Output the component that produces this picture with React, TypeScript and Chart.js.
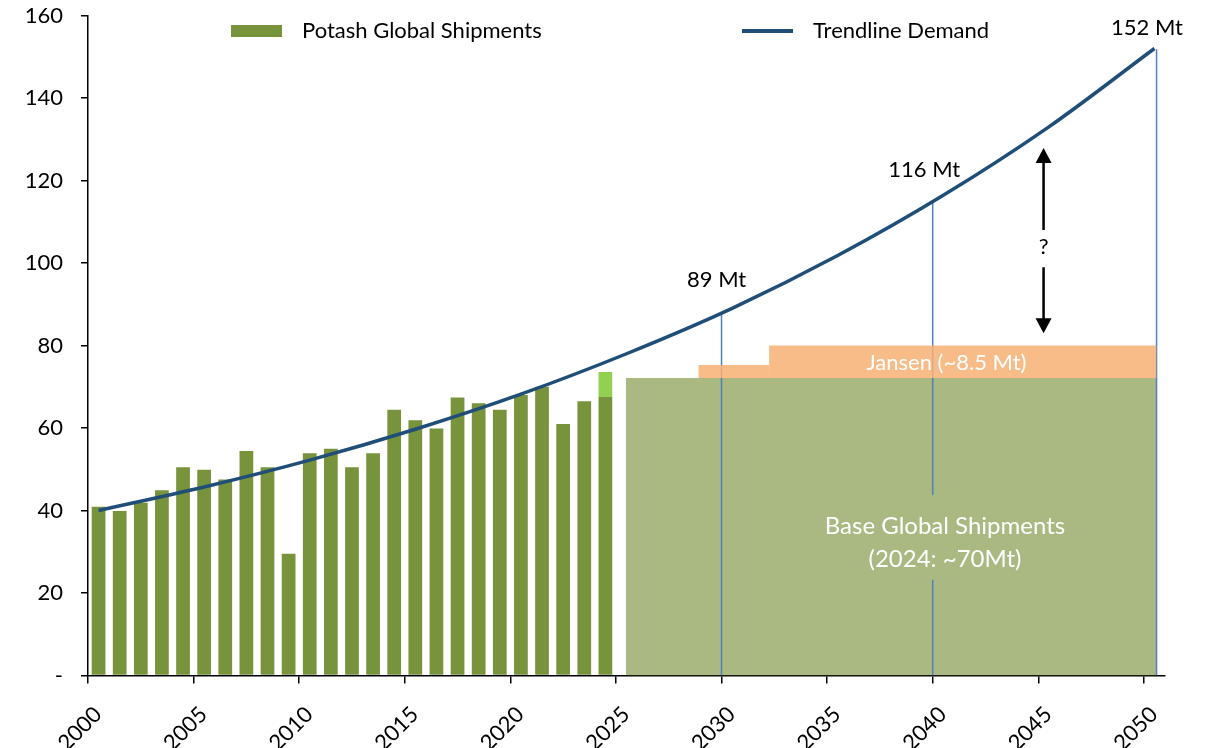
import React, { useEffect, useRef } from 'react';
import { Chart, registerables } from 'chart.js';

Chart.register(...registerables);

// ---------- data ----------
const YEARS = [2000, 2001, 2002, 2003, 2004, 2005, 2006, 2007, 2008, 2009, 2010, 2011, 2012,
  2013, 2014, 2015, 2016, 2017, 2018, 2019, 2020, 2021, 2022, 2023, 2024];
const SHIPMENTS = [40.9, 39.9, 41.9, 44.9, 50.5, 49.9, 47.5, 54.4, 50.5, 29.5, 53.9, 55.0, 50.5,
  53.9, 64.4, 61.9, 59.9, 67.4, 66.0, 64.4, 68.0, 70.0, 61.0, 66.5, 67.5];
const EXTRA_YEAR = 2024;
const EXTRA_RANGE = [67.5, 73.6];

const TREND_YEARS = [2000, 2005, 2010, 2015, 2020, 2025, 2030, 2035, 2040, 2045, 2050];
const TREND_DEMAND = [40, 45.7, 52.2, 59.7, 68.2, 78, 89, 101.8, 116.4, 133, 152];

const X_TICKS = [2000, 2005, 2010, 2015, 2020, 2025, 2030, 2035, 2040, 2045, 2050];

const BASE_START = 2025.47;
const BASE_END = 2050.6;
const BASE_LEVEL = 72.1;
const JANSEN_1 = [2028.9, 2032.25];
const JANSEN_1_TOP = 75.3;
const JANSEN_2 = [2032.25, 2050.6];
const JANSEN_2_TOP = 80;

const MARKER_X = [2030, 2040, 2050.6];
const MARKER_TOP = [88, 114.6, 151.8];
const MARKER_LABELS = ['89 Mt', '116 Mt', '152 Mt'];
const MARKER_LABEL_X = [2029.77, 2039.6, 2050.15];
const MARKER_LABEL_Y = [95.9, 122.5, 157];

const BASE_LABEL = ['Base Global Shipments', '(2024: ~70Mt)'];
const BASE_LABEL_X = 2040.58;
const BASE_LABEL_Y = [36.2, 28.2];
const BASE_LABEL_BOX = [23.2, 43.8];
const JANSEN_LABEL = 'Jansen (~8.5 Mt)';
const JANSEN_LABEL_X = 2040.65;
const JANSEN_LABEL_Y = 75.8;

const GAP_X = 2045.25;
const GAP_ARROW = [83, 99, 108, 127.9]; // bottom tip, bottom shaft top, top shaft bottom, top tip
const GAP_LABEL_Y = 103.8;

const LEGEND_LABELS = ['Potash Global Shipments', 'Trendline Demand'];

// ---------- style ----------
const FONT = 'Lato';
const BAR_COLOR = '#77933c';
const EXTRA_COLOR = '#92d050';
const BASE_COLOR = '#a9b981';
const JANSEN_COLOR = 'rgba(247,176,115,0.85)';
const TREND_COLOR = '#1f4e79';
const MARKER_COLOR = '#4f81bd';

const overlay = {
  id: 'overlay',
  afterDatasetsDraw(chart: any) {
    const { ctx } = chart;
    const x = chart.scales.x;
    const y = chart.scales.y;
    ctx.save();
    ctx.textAlign = 'center';
    ctx.textBaseline = 'middle';

    // base label with background box
    ctx.font = `24px ${FONT}`;
    const w = Math.max(...BASE_LABEL.map((l) => ctx.measureText(l).width)) + 20;
    const cx = x.getPixelForValue(BASE_LABEL_X);
    const top = y.getPixelForValue(BASE_LABEL_BOX[1]);
    const bot = y.getPixelForValue(BASE_LABEL_BOX[0]);
    ctx.fillStyle = BASE_COLOR;
    ctx.fillRect(cx - w / 2, top, w, bot - top);
    ctx.fillStyle = '#ffffff';
    BASE_LABEL.forEach((l, i) => ctx.fillText(l, cx, y.getPixelForValue(BASE_LABEL_Y[i])));

    // Jansen label
    ctx.font = `22px ${FONT}`;
    ctx.fillText(JANSEN_LABEL, x.getPixelForValue(JANSEN_LABEL_X), y.getPixelForValue(JANSEN_LABEL_Y));

    // marker labels
    ctx.fillStyle = '#000000';
    MARKER_LABELS.forEach((l, i) =>
      ctx.fillText(l, x.getPixelForValue(MARKER_LABEL_X[i]), y.getPixelForValue(MARKER_LABEL_Y[i])));

    // gap arrow
    const ax = x.getPixelForValue(GAP_X);
    const [b0, b1, t0, t1] = GAP_ARROW.map((v) => y.getPixelForValue(v));
    ctx.strokeStyle = '#000000';
    ctx.lineWidth = 2.5;
    ctx.beginPath();
    ctx.moveTo(ax, b1);
    ctx.lineTo(ax, b0 - 12);
    ctx.moveTo(ax, t0);
    ctx.lineTo(ax, t1 + 12);
    ctx.stroke();
    ctx.fillStyle = '#000000';
    ctx.beginPath();
    ctx.moveTo(ax, t1);
    ctx.lineTo(ax - 8, t1 + 15);
    ctx.lineTo(ax + 8, t1 + 15);
    ctx.closePath();
    ctx.fill();
    ctx.beginPath();
    ctx.moveTo(ax, b0);
    ctx.lineTo(ax - 8, b0 - 15);
    ctx.lineTo(ax + 8, b0 - 15);
    ctx.closePath();
    ctx.fill();
    ctx.font = `22px ${FONT}`;
    ctx.fillText('?', ax, y.getPixelForValue(GAP_LABEL_Y));

    // legend
    ctx.textAlign = 'left';
    ctx.fillStyle = BAR_COLOR;
    ctx.fillRect(231, 25, 51, 12);
    ctx.fillStyle = '#000000';
    ctx.fillText(LEGEND_LABELS[0], 302, 31);
    ctx.strokeStyle = TREND_COLOR;
    ctx.lineWidth = 4;
    ctx.beginPath();
    ctx.moveTo(742, 31);
    ctx.lineTo(793, 31);
    ctx.stroke();
    ctx.fillText(LEGEND_LABELS[1], 813, 31);
    ctx.restore();
  },
};

export default function App() {
  const ref = useRef<HTMLCanvasElement>(null);

  useEffect(() => {
    if (!ref.current) return;
    Chart.defaults.font.family = FONT;
    Chart.defaults.color = '#000000';

    const rect = (x0: number, x1: number, top: number) => [
      { x: x0, y: top },
      { x: x1, y: top },
    ];

    const chart = new Chart(ref.current, {
      type: 'bar',
      data: {
        datasets: [
          {
            type: 'line',
            label: 'Trend',
            data: TREND_YEARS.map((yr, i) => ({ x: yr + 0.5, y: TREND_DEMAND[i] })),
            borderColor: TREND_COLOR,
            borderWidth: 3.5,
            pointRadius: 0,
            cubicInterpolationMode: 'monotone',
            fill: false,
            order: 0,
          } as any,
          {
            type: 'line',
            label: 'Jansen 2',
            data: rect(JANSEN_2[0], JANSEN_2[1], JANSEN_2_TOP),
            borderWidth: 0,
            pointRadius: 0,
            backgroundColor: JANSEN_COLOR,
            fill: { value: BASE_LEVEL },
            order: 1,
          } as any,
          {
            type: 'line',
            label: 'Jansen 1',
            data: rect(JANSEN_1[0], JANSEN_1[1], JANSEN_1_TOP),
            borderWidth: 0,
            pointRadius: 0,
            backgroundColor: JANSEN_COLOR,
            fill: { value: BASE_LEVEL },
            order: 1,
          } as any,
          ...MARKER_X.map((mx, i) => ({
            type: 'line',
            label: 'Marker ' + i,
            data: [
              { x: mx, y: 0 },
              { x: mx, y: MARKER_TOP[i] },
            ],
            borderColor: MARKER_COLOR,
            borderWidth: 1.5,
            pointRadius: 0,
            fill: false,
            order: 2,
          })) as any[],
          {
            type: 'line',
            label: 'Base',
            data: rect(BASE_START, BASE_END, BASE_LEVEL),
            borderWidth: 0,
            pointRadius: 0,
            backgroundColor: BASE_COLOR,
            fill: 'origin',
            order: 3,
          } as any,
          {
            type: 'bar',
            label: 'Extra',
            data: [{ x: EXTRA_YEAR + 0.5, y: EXTRA_RANGE }],
            backgroundColor: EXTRA_COLOR,
            barPercentage: 0.65,
            categoryPercentage: 1,
            grouped: false,
            order: 4,
          } as any,
          {
            type: 'bar',
            label: 'Shipments',
            data: YEARS.map((yr, i) => ({ x: yr + 0.5, y: SHIPMENTS[i] })),
            backgroundColor: BAR_COLOR,
            barPercentage: 0.65,
            categoryPercentage: 1,
            grouped: false,
            order: 5,
          } as any,
        ],
      },
      options: {
        responsive: false,
        animation: false,
        layout: { padding: { top: 0, right: 41, left: 0, bottom: 0 } },
        plugins: { legend: { display: false }, tooltip: { enabled: false } },
        scales: {
          x: {
            type: 'linear',
            min: 2000,
            max: 2051,
            offset: false,
            afterFit: (s: any) => {
              s.height = 72.5;
            },
            afterBuildTicks: (s: any) => {
              s.ticks = X_TICKS.map((v) => ({ value: v }));
            },
            ticks: {
              autoSkip: false,
              minRotation: 45,
              maxRotation: 45,
              padding: 18,
              labelOffset: 10,
              font: { size: 22, family: FONT },
              color: '#000000',
              callback: (v: any) => String(v),
            },
            grid: { offset: false, drawOnChartArea: false, drawTicks: true, tickLength: 8, color: '#000000', lineWidth: 1.5 },
            border: { color: '#000000', width: 1.5 },
          },
          y: {
            min: 0,
            max: 160,
            afterFit: (s: any) => {
              s.width = 88;
              s.paddingTop = 15.5;
              s.paddingBottom = 0;
            },
            ticks: {
              stepSize: 20,
              padding: 18,
              font: { size: 22, family: FONT },
              color: '#000000',
              callback: (v: any) => (v === 0 ? '-' : String(v)),
            },
            grid: { drawOnChartArea: false, drawTicks: true, tickLength: 7, color: '#000000', lineWidth: 1.5 },
            border: { color: '#000000', width: 1.5 },
          },
        },
      } as any,
      plugins: [overlay],
    });

    return () => chart.destroy();
  }, []);

  return (
    <canvas
      ref={ref}
      width={1206}
      height={748}
      style={{ position: 'fixed', left: 0, top: 0, width: 1206, height: 748, display: 'block', background: '#ffffff' }}
    />
  );
}
